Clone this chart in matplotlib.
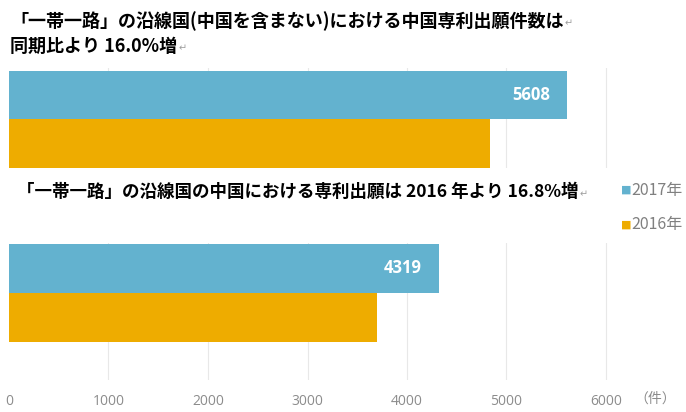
import matplotlib
matplotlib.use("Agg")
import matplotlib.pyplot as plt

JP = ["Noto Sans CJK JP", "DejaVu Sans"]
plt.rcParams["font.family"] = JP

series = ["2016年", "2017年"]
colors = ["#EEAC00", "#63B2CF"]
top_values = [4835, 5608]      # 沿線国 -> 中国
bottom_values = [3698, 4319]   # 中国 -> 沿線国
ticks = [0, 1000, 2000, 3000, 4000, 5000, 6000]
grid_at = [1000, 2000, 3000, 4000, 5000, 6000]

title_top_1 = "「一帯一路」の沿線国(中国を含まない)における中国専利出願件数は"
title_top_2 = "同期比より 16.0%増"
title_bottom = "「一帯一路」の沿線国の中国における専利出願は 2016 年より 16.8%増"
unit = "（件）"

W, H = 686, 412
fig = plt.figure(figsize=(W / 100, H / 100), dpi=100)

x0 = 9
px_per_unit = (606 - 9) / 6000
xmax = 6800
ax_w = xmax * px_per_unit


def make_axes(top_px, bottom_px):
    return fig.add_axes([x0 / W, 1 - bottom_px / H, ax_w / W, (bottom_px - top_px) / H])


def draw_bars(ax, values, ylim):
    for g in grid_at:
        ax.axvline(g, color="#E8E8E8", lw=0.8, zorder=0)
    for i, (v, c) in enumerate(zip(values, colors)):
        ax.barh(i, v, height=1.0, align="edge", color=c, zorder=2)
    ax.text(values[1] - 170, 1.5, str(values[1]), ha="right", va="center",
            color="white", fontsize=12, fontweight="bold", family="Open Sans", zorder=3)
    ax.set_xlim(0, xmax)
    ax.set_ylim(*ylim)
    for s in ax.spines.values():
        s.set_visible(False)
    ax.set_yticks([])
    ax.tick_params(axis="x", length=0)


ax_top = make_axes(68, 168)
draw_bars(ax_top, top_values, (0, 2.06))
ax_top.set_xticks([])

ax_bot = make_axes(243, 380)
draw_bars(ax_bot, bottom_values, (-0.78, 2.02))
ax_bot.set_xticks(ticks)
ax_bot.set_xticklabels([str(t) for t in ticks], fontsize=10, color="#8C8C8C", family="Open Sans")
ax_bot.tick_params(axis="x", pad=10)

# titles, each followed by a small paragraph mark
renderer = fig.canvas.get_renderer()


def title(x, y, s, size):
    t = fig.text(x / W, 1 - y / H, s, fontsize=size, fontweight="bold", va="center", ha="left")
    bb = t.get_window_extent(renderer)
    fig.text((bb.x1 + 1) / fig.bbox.width, 1 - (y + 2) / H, "↵", fontsize=7,
             color="#A0A0A0", va="center", ha="left")


title(10, 21, title_top_1, 13)
title(10, 46, title_top_2, 13)
title(17, 192, title_bottom, 12.6)

# legend
for i, (lab, c) in enumerate(zip(series[::-1], colors[::-1])):
    y = 1 - (190 + 35 * i) / H
    fig.text(621 / W, y, "■", fontsize=8, color=c, va="center", ha="left", family="DejaVu Sans")
    fig.text(631 / W, y, lab, fontsize=11.5, color="#808080", va="center", ha="left")

fig.text(655 / W, 1 - 399 / H, unit, fontsize=10, color="#8C8C8C", va="center", ha="center")

fig.savefig("out.png", dpi=100)
